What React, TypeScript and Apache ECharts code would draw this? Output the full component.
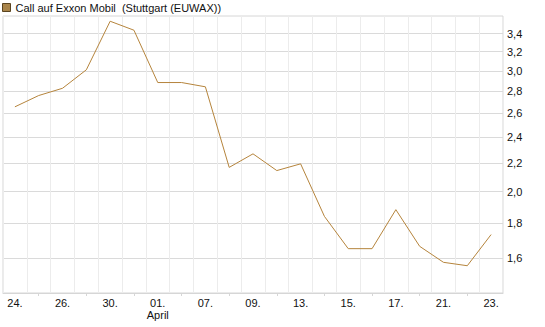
import React, { useEffect, useRef } from "react";
import * as echarts from "echarts";

const categories = [
  "24.", "25.", "26.", "27.", "30.", "31.", "01.", "02.", "07.", "08.", "09.",
  "10.", "13.", "14.", "15.", "16.", "17.", "20.", "21.", "22.", "23.",
];
const prices = [
  2.658, 2.761, 2.829, 3.01, 3.543, 3.438, 2.884, 2.884, 2.843, 2.169, 2.27,
  2.146, 2.195, 1.84, 1.651, 1.651, 1.882, 1.664, 1.577, 1.559, 1.731,
];
const yTicks = [1.6, 1.8, 2.0, 2.2, 2.4, 2.6, 2.8, 3.0, 3.2, 3.4];
const yMin = 1.4226;
const yMax = 3.606;
const title = "Call auf Exxon Mobil  (Stuttgart (EUWAX))";

const FONT = "'Liberation Sans', Arial, sans-serif";

export default function App() {
  const ref = useRef<HTMLDivElement>(null);
  useEffect(() => {
    if (!ref.current) return;
    const chart = echarts.init(ref.current, null, { renderer: "svg" });
    const logTicks = yTicks.map((v) => Math.log(v));
    chart.setOption({
      animation: false,
      textStyle: { fontFamily: FONT },
      legend: {
        show: true,
        left: 2,
        top: 2,
        itemWidth: 8,
        itemHeight: 8,
        itemGap: 4,
        padding: 0,
        icon: "rect",
        textStyle: { fontFamily: FONT, fontSize: 11, color: "#111" },
        data: [
          {
            name: title,
            icon: "rect",
            itemStyle: { color: "#a8844a", borderColor: "#5a4420", borderWidth: 1 },
          },
        ],
      },
      grid: {
        left: 3,
        right: 42,
        top: 16,
        bottom: 34,
        show: true,
        borderColor: "#d6d6d6",
        borderWidth: 1,
        containLabel: false,
      },
      xAxis: {
        type: "category",
        data: categories,
        boundaryGap: true,
        axisLine: { show: true, lineStyle: { color: "#d6d6d6" } },
        axisTick: {
          show: true,
          alignWithLabel: true,
          length: 3,
          interval: (i: number) => i % 2 === 1,
          lineStyle: { color: "#d6d6d6" },
        },
        splitLine: {
          show: true,
          interval: 0,
          lineStyle: { color: "#ececec", width: 1 },
        },
        axisLabel: {
          interval: 1,
          margin: 4,
          fontFamily: FONT,
          fontSize: 11,
          color: "#111",
          lineHeight: 12,
          formatter: (v: string) => (v === "01." ? "01.\nApril" : v),
        },
      },
      yAxis: {
        type: "value",
        position: "right",
        min: Math.log(yMin),
        max: Math.log(yMax),
        axisLine: { show: false },
        axisTick: { show: false, customValues: logTicks },
        splitLine: {
          show: true,
          customValues: logTicks,
          lineStyle: { color: "#dadada", width: 1 },
        },
        axisLabel: {
          customValues: logTicks,
          margin: 4,
          fontFamily: FONT,
          fontSize: 11,
          color: "#111",
          formatter: (v: number) => Math.exp(v).toFixed(1).replace(".", ","),
        },
      },
      series: [
        {
          name: title,
          type: "line",
          data: prices.map((p) => Math.log(p)),
          symbol: "none",
          lineStyle: { color: "#b5843c", width: 1 },
          itemStyle: { color: "#a8844a" },
        },
      ],
    });
    return () => chart.dispose();
  }, []);
  return (
    <div
      ref={ref}
      style={{ position: "absolute", left: 0, top: 0, width: 545, height: 327 }}
    />
  );
}
